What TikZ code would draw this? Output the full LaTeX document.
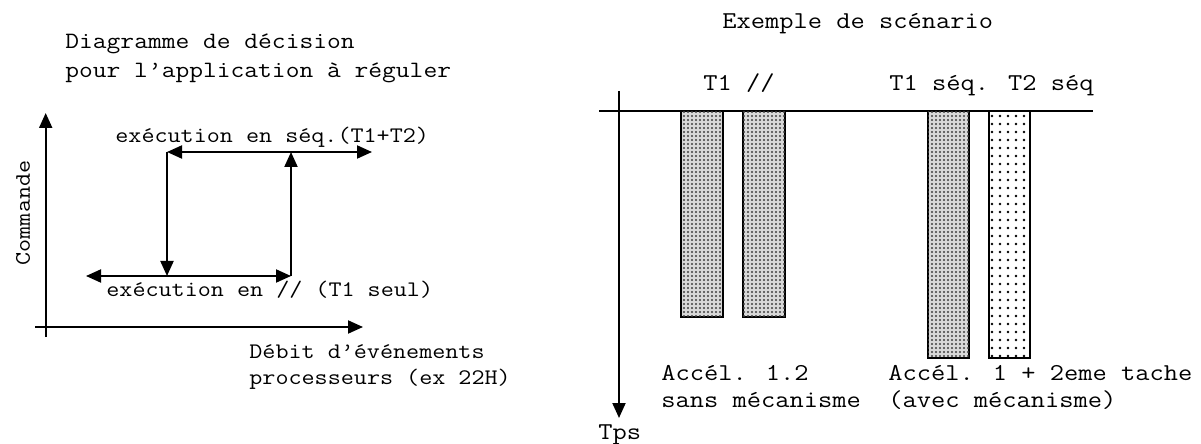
\documentclass[tikz,border=0pt]{standalone}
\usepackage{fontspec}
\setmainfont{Liberation Mono}
\newfontfamily\cour[FakeStretch=1.143]{Latin Modern Mono}
\usetikzlibrary{arrows.meta,patterns}
\pgfdeclarepatternformonly{densedots}{\pgfqpoint{-0.6pt}{-0.6pt}}{\pgfqpoint{0.6pt}{0.6pt}}{\pgfqpoint{2pt}{2pt}}{\pgfpathcircle{\pgfqpoint{0pt}{0pt}}{0.55pt}\pgfusepath{fill}}
\pgfdeclarepatternformonly{sparsedots}{\pgfqpoint{-0.8pt}{-0.8pt}}{\pgfqpoint{0.8pt}{0.8pt}}{\pgfqpoint{4pt}{4pt}}{\pgfpathcircle{\pgfqpoint{0pt}{0pt}}{0.65pt}\pgfusepath{fill}}
\tikzset{
  lbl/.style={inner sep=0pt, anchor=base west, font=\cour\fontsize{11.1pt}{13pt}\selectfont},
  ttl/.style={inner sep=0pt, anchor=base west, font=\cour\fontsize{11.7pt}{14pt}\selectfont},
  rlbl/.style={inner sep=0pt, anchor=base west, font=\cour\fontsize{12.1pt}{14pt}\selectfont},
  tip/.style={-{Triangle[length=7.5pt,width=6.5pt]}},
  dtip/.style={{Triangle[length=7.5pt,width=6.5pt]}-{Triangle[length=7.5pt,width=6.5pt]}},
  ln/.style={line width=1pt},
  densebar/.style={draw=black, line width=1.4pt, fill=gray!30, postaction={pattern=densedots, pattern color=black!75}},
  sparsebar/.style={draw=black, line width=1.4pt, fill=white, postaction={pattern=sparsedots, pattern color=black}},
}
\begin{document}
\begin{tikzpicture}[x=0.5pt,y=-0.5pt]
\useasboundingbox (0,0) rectangle (1201,444);
% ---------- left diagram ----------
\node[ttl] (titleA) at (65,49) {Diagramme de décision};
\node[ttl] (titleB) at (65,78) {pour l’application à réguler};
\coordinate (yb) at (45.7,337);
\coordinate (yt) at (45.7,113);
\coordinate (xl) at (35,327);
\coordinate (xr) at (363,327);
\draw[ln,tip] (yb) -- (yt);
\draw[ln,tip] (xl) -- (xr);
\node[inner sep=0pt, rotate=90, font=\cour\fontsize{11.1pt}{13pt}\selectfont] (cmd) at (23,213) {Commande};
\coordinate (tl) at (167,152);
\coordinate (tr) at (372,152);
\coordinate (bl) at (86,276);
\coordinate (bm) at (167,276);
\coordinate (br) at (291,276);
\coordinate (tm) at (291,152);
\draw[ln,dtip] (tl) -- (tr);
\draw[ln,dtip] (bl) -- (br);
\draw[ln,tip] (tl) -- (bm);
\draw[ln,tip] (br) -- (tm);
\node[lbl] (seq) at (115,143) {exécution en séq.(T1+T2)};
\node[lbl] (par) at (106,296) {exécution en // (T1 seul)};
\node[lbl] (debA) at (249,358) {Débit d’événements};
\node[lbl] (debB) at (249,384) {processeurs (ex 22H)};
% ---------- right diagram ----------
\node[rlbl] (ex) at (722,29) {Exemple de scénario};
\node[rlbl] (t1p) at (703,91) {T1 //};
\node[rlbl] (t1s) at (889,91) {T1 séq. T2 séq};
\coordinate (hl) at (599,111);
\coordinate (hr) at (1093,111);
\draw[ln] (hl) -- (hr);
\coordinate (at) at (619,91);
\coordinate (ab) at (619,418);
\draw[ln,tip] (at) -- (ab);
\node[rlbl] (tps) at (598,439) {Tps};
\draw[densebar] (681,111) rectangle (723,317);
\draw[densebar] (743,111) rectangle (785,317);
\draw[densebar] (928,111) rectangle (969,358);
\draw[sparsebar] (989,111) rectangle (1030,358);
\node[rlbl] (accA) at (661,380) {Accél. 1.2};
\node[rlbl] (sans) at (661,407) {sans mécanisme};
\node[rlbl] (accB) at (888,380) {Accél. 1 + 2eme tache};
\node[rlbl] (avec) at (888,407) {(avec mécanisme)};
\end{tikzpicture}
\end{document}
